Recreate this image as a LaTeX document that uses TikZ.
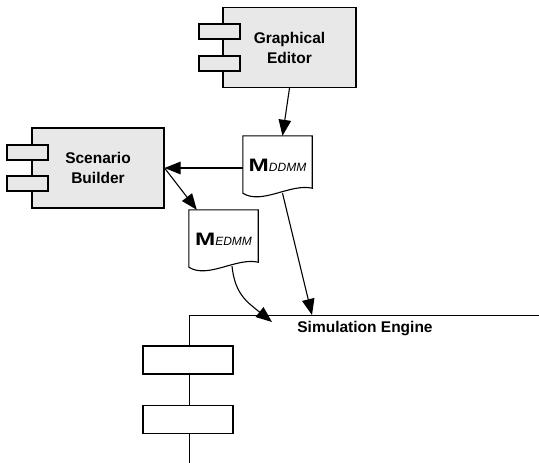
\documentclass[tikz,border=0pt]{standalone}
\usepackage{fontspec}
\setmainfont{Liberation Sans}
\usepackage{graphicx}
\usetikzlibrary{arrows.meta,calc}
\definecolor{compfill}{RGB}{232,232,232}
\newcommand{\docM}[1]{{\fontsize{18}{18}\selectfont\bfseries\scalebox{1.35}[1]{M}}%
  {\fontsize{12}{12}\selectfont\itshape #1}}
% wavy document outline round a docu node
\newcommand{\docoutline}[1]{%
  \draw[line] (#1.north west) -- (#1.north east) -- (#1.south east)
    .. controls ([shift={(-22,-5)}]#1.south east) and ([shift={(19,17)}]#1.south west)
    .. ([shift={(0,5)}]#1.south west) -- cycle;}

\begin{document}
\begin{tikzpicture}[x=1pt,y=-1pt,
    line/.style={draw=black,line width=1.1pt},
    comp/.style={line,fill=compfill,minimum width=133,minimum height=80,
      align=center,font=\fontsize{15.5}{20}\selectfont\bfseries},
    tab/.style={line,fill=compfill,minimum width=41,minimum height=15,inner sep=0pt},
    bigtab/.style={line,fill=white,minimum width=90,minimum height=28,inner sep=0pt},
    docu/.style={minimum width=69,minimum height=52,inner sep=0pt,
      text height=19pt,text depth=0pt},
    arr/.style={line,-{Triangle[length=16pt,width=12.5pt]}}]
  \useasboundingbox (0,0) rectangle (539,463);
  \clip (0,0) rectangle (539,463);

  % components
  \node[comp] (ge) at (289.5,47.5) {Graphical\\Editor};
  \node[tab] (getab1) at (219.5,31.5) {};
  \node[tab] (getab2) at (219.5,63.5) {};
  \node[comp,minimum width=132] (sb) at (98,168) {Scenario\\Builder};
  \node[tab] (sbtab1) at (27.5,152.5) {};
  \node[tab] (sbtab2) at (27.5,183.5) {};

  % simulation engine, cut off at the edge
  \node[line,minimum width=420,minimum height=200,anchor=north west] (se) at (189,315) {};
  \node[anchor=base,font=\fontsize{15.5}{20}\selectfont\bfseries] (selabel)
    at (365,332.5) {Simulation Engine};
  \node[bigtab] (setab1) at (188,360) {};
  \node[bigtab] (setab2) at (188,419.5) {};

  % models
  \node[docu] (ddmm) at (277.5,162) {\docM{DDMM}};
  \node[docu] (edmm) at (223.5,236) {\docM{EDMM}};
  \docoutline{ddmm}
  \docoutline{edmm}

  \draw[arr] (ge.south) -- ([xshift=5pt]ddmm.north);
  \draw[arr] (sb.east -| ddmm.west) -- (sb.east);
  \draw[arr] (sb.east) -- ([xshift=8pt]edmm.north west);
  \draw[arr] ([shift={(8.5,4)}]edmm.south) .. controls +(3,28) and +(-25,-20)
    .. ([shift={(83,7)}]se.north west);
  \draw[arr] ([shift={(5,5)}]ddmm.south) -- ([xshift=123pt]se.north west);
\end{tikzpicture}
\end{document}
